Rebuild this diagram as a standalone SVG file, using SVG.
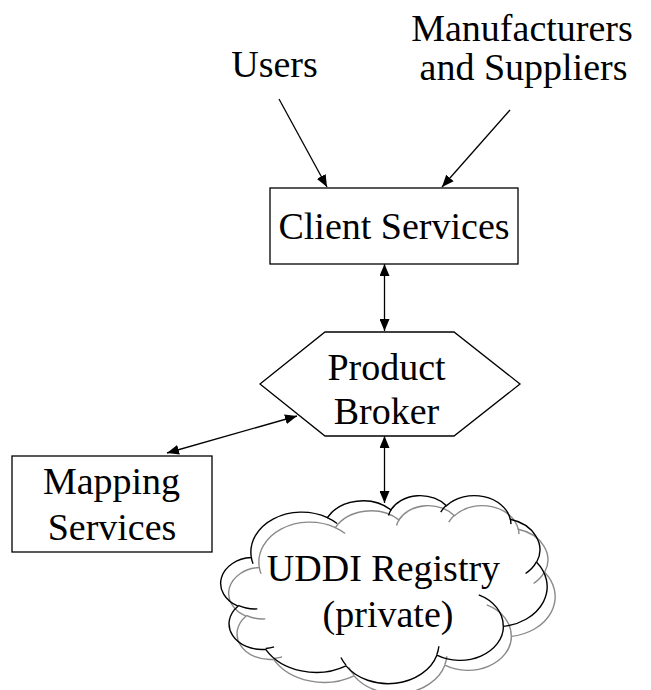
<svg xmlns="http://www.w3.org/2000/svg" xmlns:xlink="http://www.w3.org/1999/xlink" width="651" height="690" viewBox="0 0 651 690">
  <style>
    .lbl { font-family: "Liberation Serif", "Times New Roman", serif; font-size: 38px; fill: #000; text-anchor: middle; }
    .box { fill: #fff; stroke: #000; stroke-width: 1.3; }
    .edge { fill: none; stroke: #000; stroke-width: 1.3; }
    .cloud path { fill: none; stroke-width: 1.4; vector-effect: non-scaling-stroke; }
  </style>
  <defs>
    <marker id="arrow" viewBox="0 0 12 10" refX="12" refY="5" markerWidth="12" markerHeight="10" markerUnits="userSpaceOnUse" orient="auto-start-reverse">
      <path d="M0,0 L12,5 L0,10 z" fill="#000"/>
    </marker>
    <!-- cloud outline in a 43200 x 43200 design box, lobes plus inner overlap arcs -->
    <g id="cloud-shape" class="cloud">
      <path d="M3900 14370 A6753 9190 0 0 1 14005 5202 A5333 7267 0 0 1 22457 3428 A4365 5945 0 0 1 29834 2476 A4857 6595 0 0 1 38320 5571 A5333 7273 0 0 1 41820 15455 A6775 9220 0 0 1 37406 30198 A5785 7867 0 0 1 28558 36808 A6752 9215 0 0 1 16482 39260 A7720 10543 0 0 1 5807 35466 A4360 5918 0 0 1 2115 25545 A4345 5945 0 0 1 3900 14370 Z"/>
      <path d="M4693 26177 A4345 5945 0 0 1 2160 25380 M6928 34899 A4360 5918 0 0 1 5820 35280 M16478 39090 A6752 9215 0 0 1 15810 37350 M28827 34751 A6752 9215 0 0 1 28560 36660 M34129 22954 A5785 7867 0 0 1 37380 30090 M41798 15354 A5333 7273 0 0 1 40350 18030 M38324 5426 A4857 6595 0 0 1 38400 6690 M29078 3952 A4857 6595 0 0 1 29820 2341 M22141 4720 A4365 5945 0 0 1 22500 3330 M14000 5192 A6753 9190 0 0 1 15299 6540 M4127 15789 A6753 9190 0 0 1 3900 14370"/>
    </g>
  </defs>

  <rect width="651" height="690" fill="#fff"/>

  <g id="users">
    <text class="lbl" x="274.5" y="77">Users</text>
  </g>

  <g id="manufacturers-suppliers">
    <text class="lbl" x="522" y="41">Manufacturers</text>
    <text class="lbl" x="523.5" y="80">and Suppliers</text>
  </g>

  <g id="client-services">
    <rect class="box" x="270" y="188" width="248" height="76"/>
    <text class="lbl" x="394" y="239">Client Services</text>
  </g>

  <g id="product-broker">
    <polygon class="box" points="260,384 325,332 454,332 520,384 454,436 325,436"/>
    <text class="lbl" x="386.5" y="380">Product</text>
    <text class="lbl" x="386.5" y="424">Broker</text>
  </g>

  <g id="mapping-services">
    <rect class="box" x="12" y="456" width="200" height="96"/>
    <text class="lbl" x="111.5" y="494">Mapping</text>
    <text class="lbl" x="112" y="540">Services</text>
  </g>

  <g id="uddi-registry">
    <use xlink:href="#cloud-shape" href="#cloud-shape" stroke="#8a8a8a" transform="translate(230,505) scale(0.0075231,0.0043519)"/>
    <use xlink:href="#cloud-shape" href="#cloud-shape" stroke="#000" transform="translate(222,495) scale(0.0075231,0.0043519)"/>
    <text class="lbl" x="383.5" y="581">UDDI Registry</text>
    <text class="lbl" x="388" y="627">(private)</text>
  </g>

  <g id="connectors">
    <line class="edge" x1="279" y1="99" x2="327" y2="187" marker-end="url(#arrow)"/>
    <line class="edge" x1="510" y1="110" x2="442" y2="187" marker-end="url(#arrow)"/>
    <line class="edge" x1="384.5" y1="264" x2="384.5" y2="331" marker-start="url(#arrow)" marker-end="url(#arrow)"/>
    <line class="edge" x1="167" y1="453" x2="297" y2="416" marker-start="url(#arrow)" marker-end="url(#arrow)"/>
    <line class="edge" x1="384.5" y1="436" x2="384.5" y2="503" marker-start="url(#arrow)" marker-end="url(#arrow)"/>
  </g>
</svg>
